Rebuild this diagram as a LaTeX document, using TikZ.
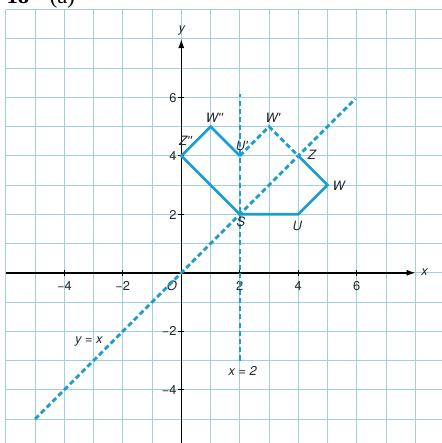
\documentclass[tikz,border=0pt]{standalone}
\usepackage{fontspec}
\setmainfont{TeX Gyre Heros}
\newfontfamily\headfont{Liberation Serif}
\usetikzlibrary{arrows.meta}
\definecolor{gridblue}{RGB}{160,208,224}
\definecolor{shapeblue}{RGB}{28,156,208}
\definecolor{labelgray}{RGB}{40,40,40}
\tikzset{
  gridline/.style={draw=gridblue,line width=0.9pt},
  axisline/.style={draw=black,line width=1.5pt,-{Latex[length=9pt,width=6pt]}},
  tickline/.style={draw=black,line width=0.8pt},
  shapeline/.style={draw=shapeblue,line width=2.6pt,line join=miter},
  dashline/.style={draw=shapeblue,line width=2.8pt,dash pattern=on 5pt off 3pt},
  dashthin/.style={draw=shapeblue,line width=1.8pt,dash pattern=on 5pt off 3pt},
  lbl/.style={text=labelgray,font=\fontsize{12.5}{14}\selectfont\itshape,inner sep=0pt},
  num/.style={text=labelgray,font=\fontsize{12.5}{14}\selectfont,inner sep=0pt},
}
\begin{document}
\begin{tikzpicture}[x=1cm,y=1cm]
\useasboundingbox (-6.2,-5.82) rectangle (8.91,9.33);
% header (cut off at top, as in the reference)
\node[font=\headfont\fontsize{22}{24}\selectfont\bfseries,anchor=base west,inner sep=0pt] (hd) at (-5.98,9.21) {18};
\node[font=\headfont\fontsize{22}{24}\selectfont,anchor=base west,inner sep=0pt] (hda) at (-4.5,9.21) {(a)};
% grid
\draw[gridline] (-6,-5.82) grid (8.91,9);
% axes
\coordinate (xs) at (-6,0);
\coordinate (xe) at (8.02,0);
\coordinate (ys) at (0,-5.82);
\coordinate (ye) at (0,8.0);
\draw[axisline] (xs) -- (xe);
\draw[axisline] (ys) -- (ye);
\foreach \v in {-4,-2,2,4,6} {
  \draw[tickline] (\v,-0.1) -- (\v,0.1);
}
\foreach \v in {-4,-2,2,4,6} {
  \draw[tickline] (-0.1,\v) -- (0.1,\v);
}
\node[lbl] (xl) at (8.32,0.02) {x};
\node[lbl] (yl) at (0.02,8.27) {y};
\node[num] (o) at (-0.32,-0.45) {\itshape O};
\node[num,anchor=base] (xm4) at (-4,-0.62) {−4};
\node[num,anchor=base] (xm2) at (-2,-0.62) {−2};
\node[num,anchor=base] (x2) at (2,-0.62) {2};
\node[num,anchor=base] (x4) at (4,-0.62) {4};
\node[num,anchor=base] (x6) at (6,-0.62) {6};
\node[num,anchor=base east] (y6) at (-0.16,5.84) {6};
\node[num,anchor=base east] (y4) at (-0.16,3.84) {4};
\node[num,anchor=base east] (y2) at (-0.16,1.84) {2};
\node[num,anchor=base east] (ym2) at (-0.16,-2.16) {−2};
\node[num,anchor=base east] (ym4) at (-0.16,-4.16) {−4};
% points
\coordinate (S) at (2,2);
\coordinate (U) at (4,2);
\coordinate (W) at (5,3);
\coordinate (Z) at (4,4);
\coordinate (Up) at (2,4);
\coordinate (Wp) at (3,5);
\coordinate (Wpp) at (1,5);
\coordinate (Zpp) at (0,4);
\coordinate (L1) at (-5,-5);
\coordinate (L2) at (5.95,5.95);
\coordinate (M1) at (2,-3);
\coordinate (M2) at (2,6.1);
% mirror lines
\draw[dashline] (L1) -- (L2);
\draw[dashthin] (M1) -- (M2);
% shapes
\draw[dashline] (Up) -- (Wp) -- (Z);
\draw[shapeline] (Z) -- (W) -- (U) -- (S) -- (Zpp) -- (Wpp) -- (Up);
% labels
\node[lbl] (lWpp) at (1.13,5.3) {W\textquotesingle\textquotesingle};
\node[lbl] (lWp) at (3.13,5.3) {W\textquotesingle};
\node[lbl] (lUp) at (2.07,4.34) {U\textquotesingle};
\node[lbl] (lZpp) at (0.14,4.51) {Z\textquotesingle\textquotesingle};
\node[lbl] (lZ) at (4.46,4.05) {Z};
\node[lbl] (lW) at (5.38,2.97) {W};
\node[lbl] (lU) at (3.97,1.61) {U};
\node[lbl] (lS) at (2.04,1.73) {S};
\node[lbl] (lyx) at (-3.16,-2.35) {y = x};
\node[lbl] (lx2) at (2.1,-3.36) {x = 2};
\end{tikzpicture}
\end{document}
